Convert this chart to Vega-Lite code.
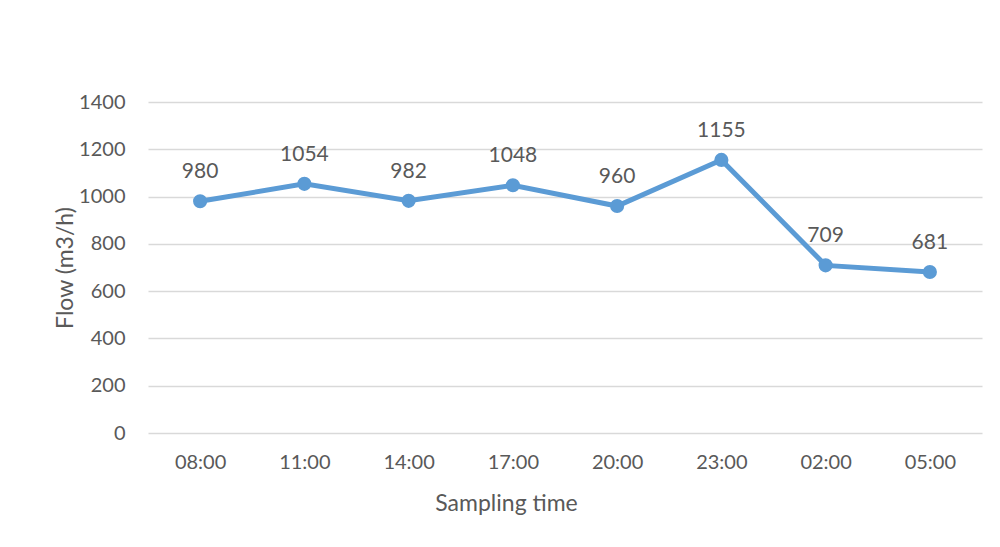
{
  "$schema": "https://vega.github.io/schema/vega-lite/v6.json",
  "width": 834,
  "height": 331,
  "autosize": {"type": "none"},
  "padding": {"left": 148, "top": 102, "right": 18, "bottom": 114},
  "background": "white",
  "config": {
    "view": {"stroke": null},
    "font": "Lato",
    "axis": {"labelFont": "Lato", "titleFont": "Lato", "labelColor": "#595959", "titleColor": "#595959", "labelFontSize": 20, "titleFontSize": 23, "titleFontWeight": "normal", "gridColor": "#D9D9D9", "gridWidth": 1.3, "domain": false, "ticks": false}
  },
  "data": {"values": [
    {"time": "08:00", "flow": 980},
    {"time": "11:00", "flow": 1054},
    {"time": "14:00", "flow": 982},
    {"time": "17:00", "flow": 1048},
    {"time": "20:00", "flow": 960},
    {"time": "23:00", "flow": 1155},
    {"time": "02:00", "flow": 709},
    {"time": "05:00", "flow": 681}
  ]},
  "encoding": {
    "x": {"field": "time", "type": "ordinal", "sort": null, "scale": {"paddingInner": 0, "paddingOuter": 0.5},
      "axis": {"title": "Sampling time", "labelAngle": 0, "labelPadding": 19, "grid": false, "titlePadding": 20, "titleX": 358, "titleAlign": "center"}},
    "y": {"field": "flow", "type": "quantitative", "scale": {"domain": [0, 1400]},
      "axis": {"title": "Flow (m3/h)", "format": "d", "values": [0, 200, 400, 600, 800, 1000, 1200, 1400], "labelPadding": 23, "titlePadding": 1}}
  },
  "layer": [
    {"mark": {"type": "line", "color": "#5B9BD5", "strokeWidth": 5}},
    {"mark": {"type": "point", "filled": true, "opacity": 1, "color": "#5B9BD5", "size": 200}},
    {"mark": {"type": "text", "dy": -29, "fontSize": 21, "color": "#595959", "font": "Lato"}, "encoding": {"text": {"field": "flow", "type": "quantitative"}}}
  ]
}
